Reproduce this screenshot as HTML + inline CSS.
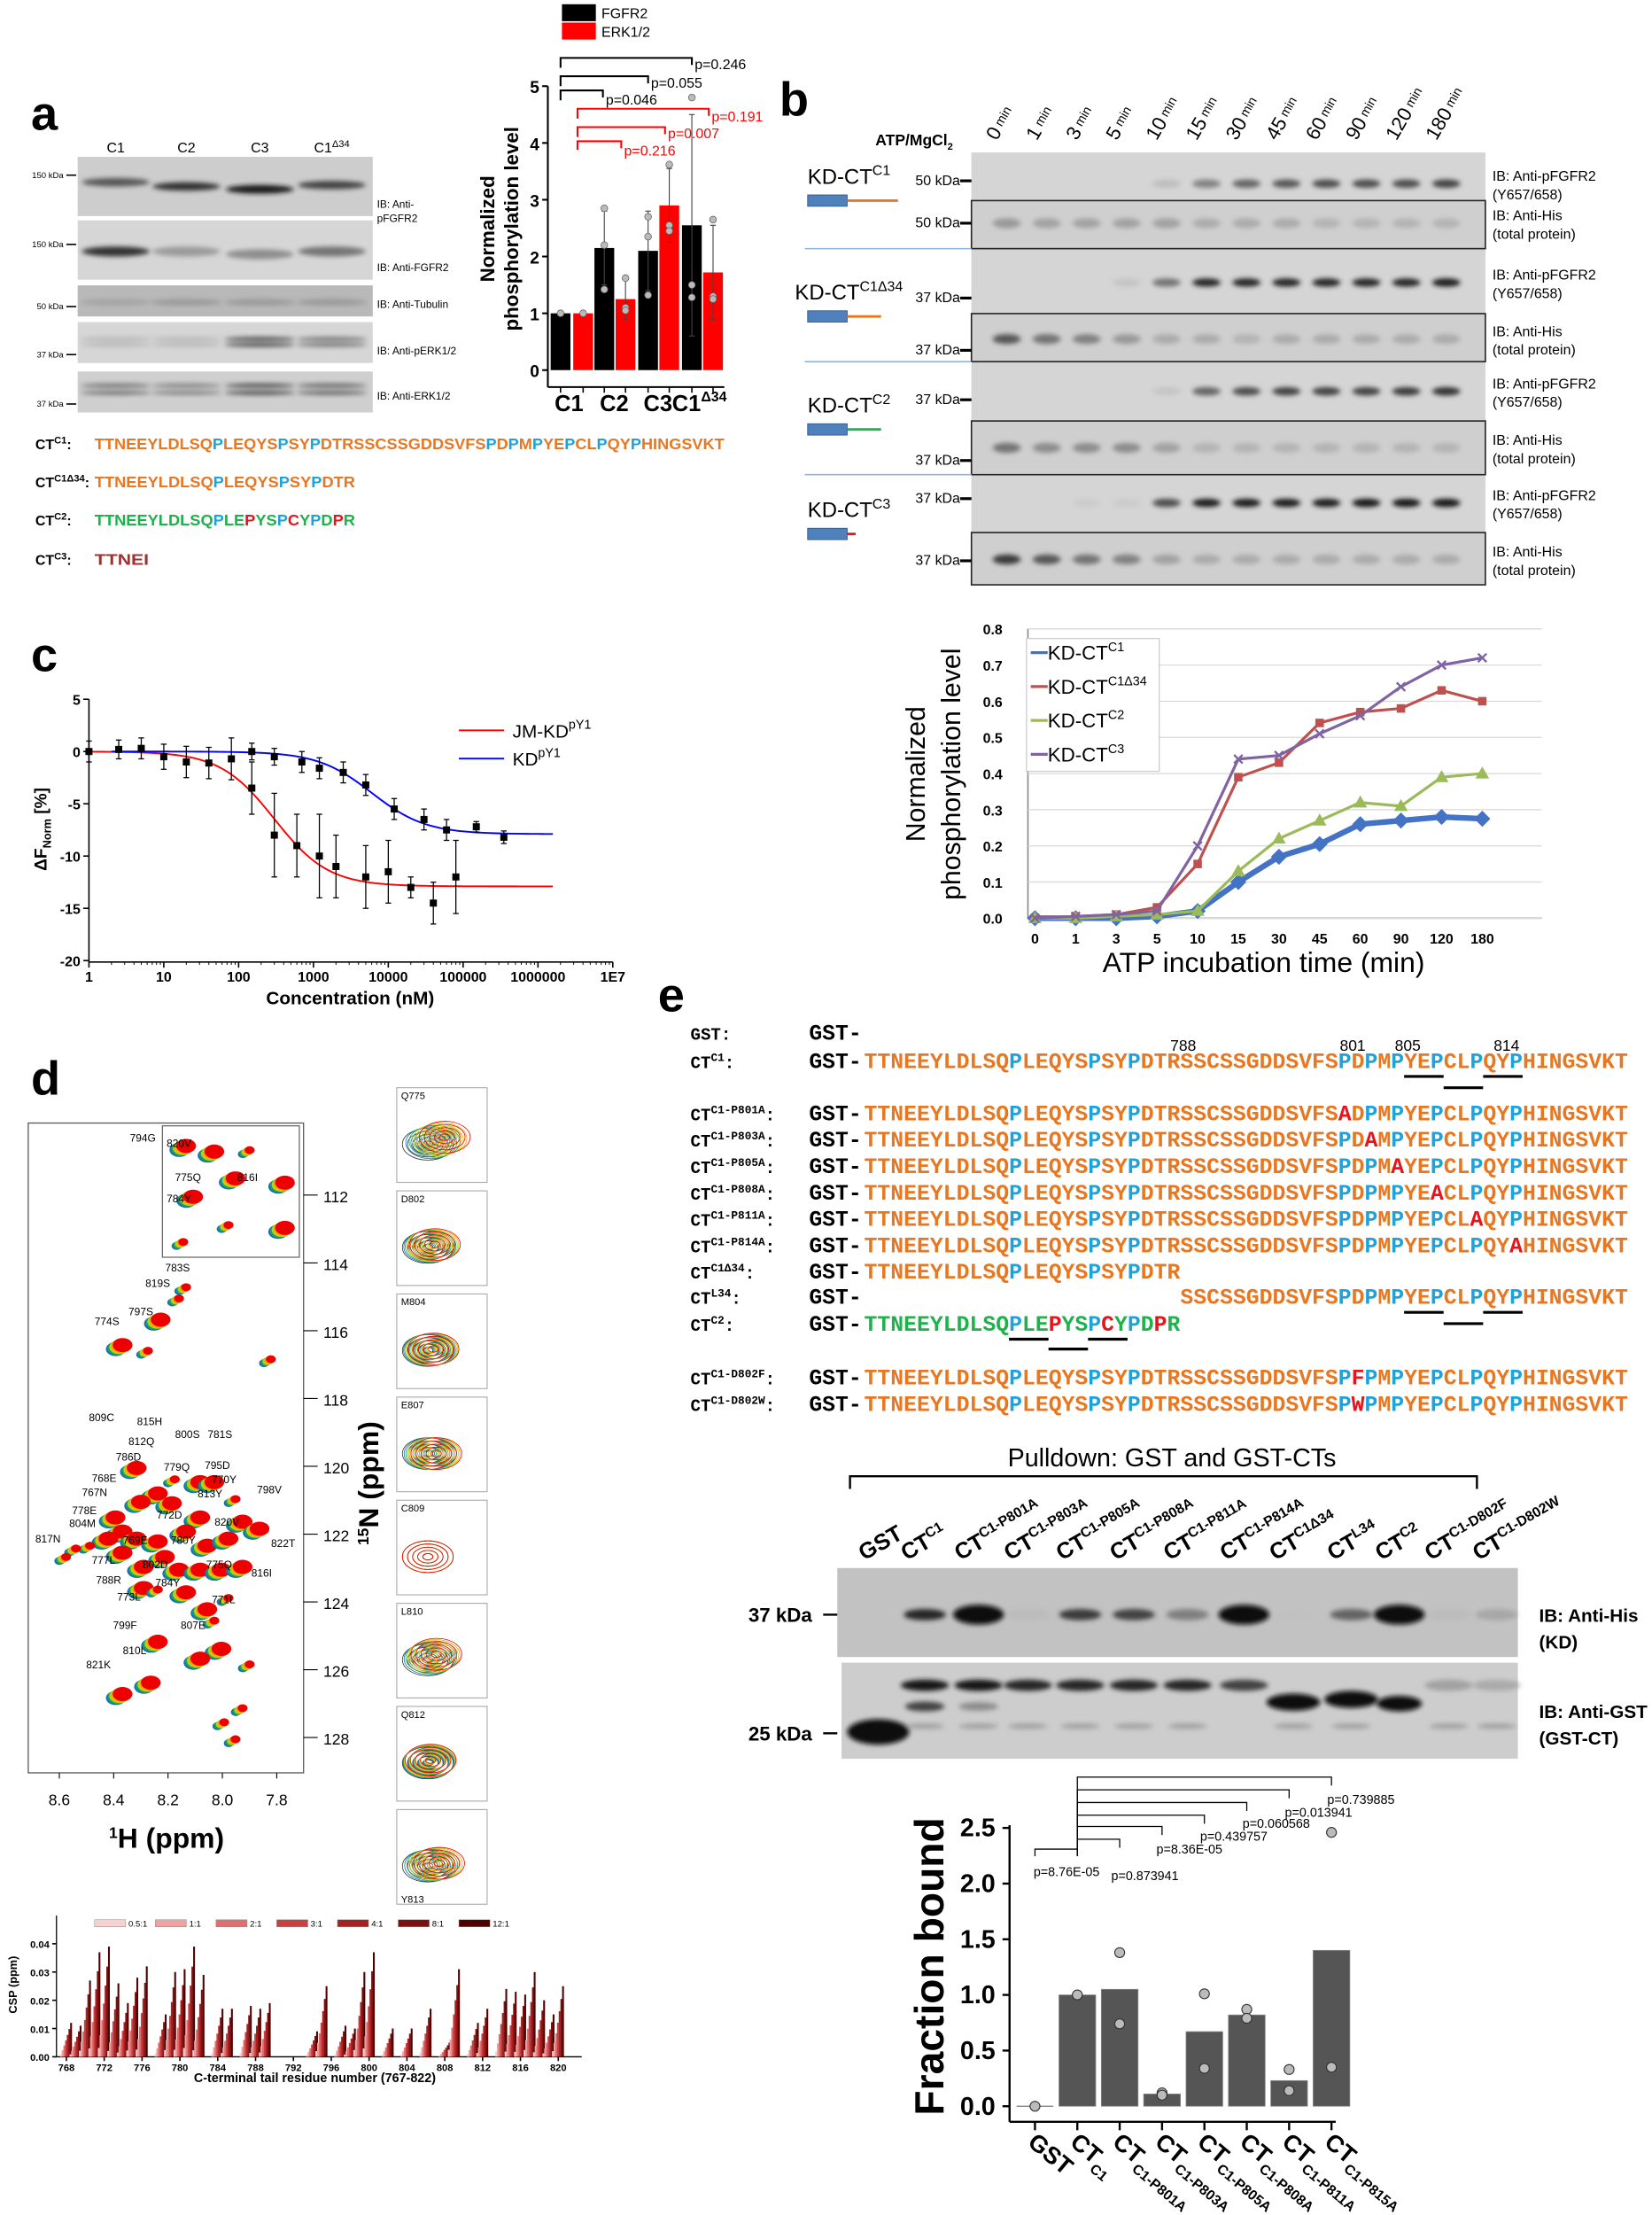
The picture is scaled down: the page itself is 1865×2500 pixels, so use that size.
<!DOCTYPE html>
<html><head><meta charset="utf-8"><style>
html,body{margin:0;padding:0;background:#fff}
svg{display:block}
text{font-family:"Liberation Sans",Arial,sans-serif}
.m{font-family:"Liberation Mono","Courier New",monospace;font-weight:bold}
</style></head><body>
<svg id="s" xmlns="http://www.w3.org/2000/svg" width="1865" height="2500" viewBox="0 0 1170 1568" preserveAspectRatio="none">
<defs>
<filter id="bl" x="-50%" y="-100%" width="200%" height="300%"><feGaussianBlur stdDeviation="1.6"/></filter>
</defs>
<rect width="1170" height="1568" fill="#fff"/>
<g id="g"></g>
</svg>
<script>
const g=document.getElementById('g');let H='';
function T(x,y,t,o){o=o||{};H+=`<text x="${x}" y="${y}" font-size="${o.s||10}" ${o.b?'font-weight="bold"':''} fill="${o.c||'#000'}" ${o.a?`text-anchor="${o.a}"`:''} ${o.r!=null?`transform="rotate(${o.r} ${x} ${y})"`:''} ${o.tl?`textLength="${o.tl}" lengthAdjust="spacingAndGlyphs"`:''}>${t}</text>`;}
function L(x1,y1,x2,y2,c,w){H+=`<line x1="${x1}" y1="${y1}" x2="${x2}" y2="${y2}" stroke="${c||'#000'}" stroke-width="${w||1}"/>`;}
function R(x,y,w,h,f,st){H+=`<rect x="${x}" y="${y}" width="${w}" height="${h}" fill="${f}" ${st||''}/>`;}
function P(d,c,w,f){H+=`<path d="${d}" stroke="${c||'#000'}" stroke-width="${w||1}" fill="${f||'none'}"/>`;}
function C(x,y,r,f,st){H+=`<circle cx="${x}" cy="${y}" r="${r}" fill="${f}" ${st||''}/>`;}
function band(x,y,w,h,i){if(i<=0)return;const v=Math.round(200-190*i);H+=`<ellipse cx="${x}" cy="${y}" rx="${w/2}" ry="${h/2}" fill="rgb(${v},${v},${v})" opacity="${Math.min(1,0.4+i)}" filter="url(#bl)"/>`;}
const OR='#e87722',BL='#1ca3dc',RD='#e8141c',GR='#1cb34a',BR='#9b3333';
// ===== panel a =====
T(22,92,'a',{s:34,b:1});
const lanesA=[82,132,184,235];
lanesA.forEach((x,i)=>T(x,108,i<3?'C'+(i+1):'C1<tspan dy="-4" font-size="7">Δ34</tspan>',{s:10,a:'middle'}));
const rowsA=[[111,153,'#cdcdcd'],[156,198,'#d6d6d6'],[202,224,'#b9b9b9'],[228,257,'#d6d6d6'],[263,292,'#cfcfcf']];
rowsA.forEach(r=>R(55,r[0],209,r[1]-r[0],r[2]));
[[129,.6],[132,.8],[134,.95],[131,.7]].forEach((b,i)=>band(lanesA[i],b[0],48,6,b[1]));
[.8,.35,.4,.5].forEach((v,i)=>band(lanesA[i],178+(i==2?2:0),48,7,v));
[.25,.3,.3,.3].forEach((v,i)=>band(lanesA[i],214,50,5,v));
[.2,.2,.65,.5].forEach((v,i)=>{band(lanesA[i],240,50,3,v);band(lanesA[i],244,50,3,v);});
[.5,.45,.65,.55].forEach((v,i)=>{band(lanesA[i],273,50,3,v);band(lanesA[i],278,50,3,v);});
[['150 kDa',124],['150 kDa',173],['50 kDa',217],['37 kDa',251],['37 kDa',286]].forEach(k=>{T(45,k[1]+2,k[0],{s:6,a:'end'});L(47,k[1],54,k[1],'#000',1);});
T(267,147,'IB: Anti-',{s:7.5});T(267,157,'pFGFR2',{s:7.5});T(267,192,'IB: Anti-FGFR2',{s:7.5});T(267,218,'IB: Anti-Tubulin',{s:7.5});T(267,251,'IB: Anti-pERK1/2',{s:7.5});T(267,283,'IB: Anti-ERK1/2',{s:7.5});
// bar chart a
R(398,3,24,12,'#000');R(398,16,24,12,'#f00');T(426,13,'FGFR2',{s:10});T(426,26,'ERK1/2',{s:10});
const by=v=>262-v*40.2;
L(388,61,388,274,'#000',1.3);L(388,274,513,274,'#000',1.3);
for(let v=0;v<=5;v++){L(384,by(v),388,by(v),'#000',1.3);T(382,by(v)+5,v,{s:12,b:1,a:'end'});}
const bars=[[390,1,1,'#000'],[406,1,1,'#f00'],[421,2.15,2.8,'#000'],[436,1.25,1.6,'#f00'],[452,2.1,2.8,'#000'],[467,2.9,3.55,'#f00'],[483,2.55,4.5,'#000'],[498,1.72,2.55,'#f00']];
bars.forEach(b=>{const cx=b[0]+7;R(b[0],by(b[1]),14,b[1]*40.2,b[3]);if(b[2]>b[1]){L(cx,by(b[1]-(b[2]-b[1])),cx,by(b[2]),'#444',0.7);L(cx-2,by(b[2]),cx+2,by(b[2]),'#444',0.7);L(cx-2,by(b[1]-(b[2]-b[1])),cx+2,by(b[1]-(b[2]-b[1])),'#444',0.7);}L(cx,274,cx,278,'#000',1);});
[[397,1],[413,1],[428,2.85],[428,2.2],[428,1.42],[443,1.62],[443,1.1],[443,1.05],[459,2.7],[459,2.35],[459,1.32],[474,3.62],[474,2.55],[474,2.45],[490,4.8],[490,1.5],[490,1.28],[505,2.65],[505,1.3],[505,1.25]].forEach(d=>C(d[0],by(d[1]),2.4,'#bbb','stroke="#666" stroke-width="0.5"'));
T(403,291,'C1',{s:16,b:1,a:'middle'});T(435,291,'C2',{s:16,b:1,a:'middle'});T(466,291,'C3',{s:16,b:1,a:'middle'});T(476,291,'C1<tspan dy="-7" font-size="10">Δ34</tspan>',{s:16,b:1});
T(350,162,'Normalized',{s:14,b:1,a:'middle',r:-90});T(367,162,'phosphorylation level',{s:14,b:1,a:'middle',r:-90});
P('M397,48 V41 H490 V46','#000',1.3);T(492,49,'p=0.246',{s:10});
P('M397,61 V54 H459 V59','#000',1.3);T(461,62,'p=0.055',{s:10});
P('M397,71 V64 H427 V69','#000',1.3);T(429,74,'p=0.046',{s:10});
P('M409,84 V77 H502 V82','#f00',1.3);T(504,86,'p=0.191',{s:10,c:'#f00'});
P('M409,97 V90 H471 V95','#f00',1.3);T(473,98,'p=0.007',{s:10,c:'#f00'});
P('M409,106 V100 H440 V105','#f00',1.3);T(442,110,'p=0.216',{s:10,c:'#f00'});
// sequences a
function seq(str,spec,x,y,s,tl){let out='';for(let i=0;i<str.length;i++)out+=`<tspan fill="${spec(str[i],i)}">${str[i]}</tspan>`;H+=`<text x="${x}" y="${y}" font-size="${s}" font-weight="bold" ${tl?`textLength="${tl}" lengthAdjust="spacingAndGlyphs"`:''}>${out}</text>`;}
const c1='TTNEEYLDLSQPLEQYSPSYPDTRSSCSSGDDSVFSPDPMPYEPCLPQYPHINGSVKT';
const c1s=(ch,i)=>ch==='P'?BL:OR;
const PW=446/58;
T(25,318,'CT<tspan dy="-4" font-size="7">C1</tspan><tspan dy="4">:</tspan>',{s:10,b:1});seq(c1,c1s,67,318,11,446);
T(25,345,'CT<tspan dy="-4" font-size="7">C1Δ34</tspan><tspan dy="4">:</tspan>',{s:10,b:1});seq('TTNEEYLDLSQPLEQYSPSYPDTR',c1s,67,345,11,24*PW);
const c2='TTNEEYLDLSQPLEPYSPCYPDPR';const c2s=(ch,i)=>[14,18,22].includes(i)?RD:(ch==='P'?BL:GR);
T(25,372,'CT<tspan dy="-4" font-size="7">C2</tspan><tspan dy="4">:</tspan>',{s:10,b:1});seq(c2,c2s,67,372,11,24*PW);
T(25,400,'CT<tspan dy="-4" font-size="7">C3</tspan><tspan dy="4">:</tspan>',{s:10,b:1});T(67,400,'TTNEI',{s:11,b:1,c:BR,tl:5*PW});
// ===== panel b =====
T(552,82,'b',{s:34,b:1});
T(620,103,'ATP/MgCl<tspan dy="3" font-size="7">2</tspan>',{s:11,b:1});
const tl=['0','1','3','5','10','15','30','45','60','90','120','180'];
const lx=i=>710+i*28.3;
tl.forEach((t,i)=>T(lx(i)-4,100,t+'<tspan font-size="9" dy="-2"> min</tspan>',{s:14,r:-60}));
R(688,108,364,306,'#d3d3d3');
const cons=[
{t:108,m:142,b:176,py:130,hy:158,p:[0,0,0,0,.15,.45,.55,.6,.65,.65,.65,.7],h:[.35,.3,.3,.3,.3,.25,.25,.25,.2,.2,.2,.2],lab:'C1',ly:130,lx:572,col:OR,len:36,k1:'50 kDa',k1y:127,k2:'50 kDa',k2y:157},
{t:178,m:222,b:256,py:200,hy:240,p:[0,0,0,.1,.5,.85,.85,.85,.85,.85,.85,.9],h:[.6,.5,.45,.35,.25,.25,.2,.25,.25,.25,.25,.25],lab:'C1Δ34',ly:212,lx:563,col:OR,len:24,k1:'37 kDa',k1y:210,k2:'37 kDa',k2y:247},
{t:258,m:298,b:336,py:277,hy:317,p:[0,0,0,0,.1,.55,.65,.7,.7,.7,.75,.8],h:[.5,.4,.4,.4,.3,.2,.2,.2,.2,.2,.2,.2],lab:'C2',ly:292,lx:572,col:GR,len:24,k1:'37 kDa',k1y:282,k2:'37 kDa',k2y:325},
{t:337,m:377,b:414,py:356,hy:396,p:[0,0,.05,.05,.65,.9,.9,.9,.9,.95,.95,.95],h:[.75,.6,.5,.45,.3,.25,.25,.25,.25,.25,.25,.25],lab:'C3',ly:366,lx:572,col:RD,len:6,k1:'37 kDa',k1y:352,k2:'37 kDa',k2y:396}];
cons.forEach((c,ci)=>{R(688,c.t,364,c.m-c.t,'#d5d5d5');R(688,c.m,364,c.b-c.m,'#cfcfcf','stroke="#222" stroke-width="1"');
 c.p.forEach((v,i)=>band(lx(i)+3,c.py,20,6,v));c.h.forEach((v,i)=>band(lx(i)+3,c.hy,20,7,v));
 T(680,c.k1y+4,c.k1,{s:10,a:'end'});L(680,c.k1y+1,688,c.k1y+1,'#000',2);
 T(680,c.k2y+4,c.k2,{s:10,a:'end'});L(680,c.k2y+1,688,c.k2y+1,'#000',2);
 T(1057,c.py-2,'IB: Anti-pFGFR2',{s:10});T(1057,c.py+11,'(Y657/658)',{s:10});T(1057,c.hy-2,'IB: Anti-His',{s:10});T(1057,c.hy+11,'(total protein)',{s:10});
 T(c.lx,c.ly,'KD-CT<tspan dy="-6" font-size="10">'+c.lab+'</tspan>',{s:15});R(572,c.ly+8,28,8,'#4f81bd','stroke="#385d8a" stroke-width="0.6"');L(600,c.ly+12,600+c.len,c.ly+12,c.col,1.8);
 if(ci<3)L(570,c.b,688,c.b,'#8db3e2',1);});
// ===== line chart b =====
const X0=733,DX=28.8,ly=v=>650-v*256;
L(728,445,728,650,'#888');L(728,650,1092,650,'#888');
for(let v=0;v<=8;v++){const y=ly(v/10);L(728,y,1092,y,'#d9d9d9',0.8);T(710,y+4,(v/10).toFixed(1),{s:10,b:1,a:'end'});}
tl.forEach((t,i)=>T(X0+i*DX,668,t,{s:10,b:1,a:'middle'}));
const ser=[[[0,0,0,0.005,0.02,0.1,0.17,0.205,0.26,0.27,0.28,0.275],'#4472c4','d'],
[[0,0.005,0.01,0.03,0.15,0.39,0.43,0.54,0.57,0.58,0.63,0.6],'#c0504d','s'],
[[0,0,0.005,0.01,0.02,0.13,0.22,0.27,0.32,0.31,0.39,0.4],'#9bbb59','t'],
[[0,0.005,0.01,0.02,0.2,0.44,0.45,0.51,0.56,0.64,0.7,0.72],'#8064a2','x']];
ser.forEach(s=>{P('M'+s[0].map((v,i)=>(X0+i*DX)+','+ly(v)).join(' L'),s[1],s[2]==='d'?4:2);
 s[0].forEach((v,i)=>{const x=X0+i*DX,y=ly(v);
 if(s[2]==='d')P(`M${x-5},${y} L${x},${y-5} L${x+5},${y} L${x},${y+5}Z`,s[1],1,s[1]);
 else if(s[2]==='s')R(x-3,y-3,6,6,s[1]);else if(s[2]==='t')P(`M${x-4},${y+3} L${x},${y-4} L${x+4},${y+3}Z`,s[1],1,s[1]);
 else {L(x-3,y-3,x+3,y+3,s[1],1.5);L(x-3,y+3,x+3,y-3,s[1],1.5);}});});
R(727,452,94,94,'#fff','stroke="#ccc" stroke-width="0.8"');
ser.forEach((s,i)=>{const y=462+i*24;L(730,y,742,y,s[1],2);T(742,y+5,'KD-CT<tspan dy="-6" font-size="9">'+['C1','C1Δ34','C2','C3'][i]+'</tspan>',{s:14});});
T(655,548,'Normalized',{s:19,a:'middle',r:-90});T(680,548,'phosphorylation level',{s:19,a:'middle',r:-90});
T(895,688,'ATP incubation time (min)',{s:20,a:'middle'});
// ===== panel c =====
T(22,475,'c',{s:34,b:1});
const cx=v=>63+Math.log10(v)*53,cy=v=>532-v*7.4;
P('M63,495 V681 H434','#000',1);
[5,0,-5,-10,-15,-20].forEach(v=>{L(59,cy(v),63,cy(v));T(57,cy(v)+4,v,{s:10,b:1,a:'end'});});
['1','10','100','1000','10000','100000','1000000','1E7'].forEach((t,i)=>{const x=63+i*53;L(x,681,x,685);T(x,695,t,{s:10,b:1,a:'middle'});for(let k=2;k<10&&i<7;k++)L(x+Math.log10(k)*53,681,x+Math.log10(k)*53,683,'#000',0.6);});
T(248,711,'Concentration (nM)',{s:13,b:1,a:'middle'});
T(33,587,'ΔF<tspan font-size="8" dy="3">Norm</tspan><tspan dy="-3"> [%]</tspan>',{s:12,b:1,a:'middle',r:-90});
let pr='',pb='';for(let l2=0;l2<=6.2;l2+=0.05){const v=Math.pow(10,l2);const x=cx(v);pr+=(pr?' L':'M')+x+','+cy(-12.9/(1+Math.pow(300/v,1.2)));if(l2>=0.3)pb+=(pb?' L':'M')+x+','+cy(-7.9/(1+Math.pow(6000/v,1.2)));}
P(pr,'#f00',1.2);P(pb,'#00f',1.2);
[[1,0,1],[2.5,0.2,0.9],[5,0.3,1],[10,-0.5,1.2],[20,-1,1.5],[40,-1.1,1.5],[80,-0.7,2],[150,-3.5,2.5],[300,-8,4],[600,-9,3],[1200,-10,4],[2000,-11,3],[5000,-12,3],[10000,-11.5,3],[20000,-13,1],[40000,-14.5,2],[80000,-12,3.5],[150,0,0.8],[300,-0.5,0.8],[700,-1,1],[1200,-1.6,1],[2500,-2,1],[5000,-3.2,1],[12000,-5.5,1],[30000,-6.5,1],[60000,-7.5,1],[150000,-7.2,0.5],[350000,-8.2,0.6]].forEach(d=>{const x=cx(d[0]),y=cy(d[1]);if(d[2]){L(x,cy(d[1]-d[2]),x,cy(d[1]+d[2]),'#000',0.8);L(x-2,cy(d[1]-d[2]),x+2,cy(d[1]-d[2]),'#000',.8);L(x-2,cy(d[1]+d[2]),x+2,cy(d[1]+d[2]),'#000',.8);}R(x-2.5,y-2.5,5,5,'#000');});
L(325,517,357,517,'#f00',1.2);T(363,522,'JM-KD<tspan dy="-6" font-size="9">pY1</tspan>',{s:13});
L(325,537,357,537,'#00f',1.2);T(363,542,'KD<tspan dy="-6" font-size="9">pY1</tspan>',{s:13});
// ===== panel d =====
T(22,775,'d',{s:34,b:1});
R(20,795,195,460,'none','stroke="#555" stroke-width="0.8"');
R(115,797,97,93,'none','stroke="#555" stroke-width="0.7"');
const ny=v=>846+(v-112)*24;
[112,114,116,118,120,122,124,126,128].forEach(v=>{L(215,ny(v),225,ny(v),'#000',0.7);T(229,ny(v)+5,v,{s:11});});
const hx=v=>42+(8.6-v)*192.5;
[8.6,8.4,8.2,8.0,7.8].forEach(v=>{L(hx(v),1255,hx(v),1259,'#000',0.7);T(hx(v),1278,v.toFixed(1),{s:11,a:'middle'});});
T(118,1308,'<tspan dy="-7" font-size="11">1</tspan><tspan dy="7">H (ppm)</tspan>',{s:20,b:1,a:'middle'});
T(268,1050,'<tspan font-size="11" dy="-7">15</tspan><tspan dy="7">N (ppm)</tspan>',{s:20,b:1,a:'middle',r:-90});
const pk=[[130,812,1],[150,816,1],[175,815,0],[135,848,1],[165,835,1],[200,838,1],[128,880,0],[160,868,0],[200,870,1],
[130,912,0],[125,920,0],[112,935,1],[85,953,1],[103,957,0],[190,963,0],[95,1040,1],[122,1048,0],[110,1058,1],[140,1050,1],[150,1050,1],[98,1064,1],[80,1075,1],[120,1065,1],[140,1075,1],[165,1062,0],[170,1078,1],[182,1083,1],[85,1085,1],[75,1090,1],[95,1090,1],[110,1092,1],[130,1085,1],[145,1095,1],[160,1090,1],[85,1100,1],[62,1095,0],[52,1097,0],[45,1103,0],[115,1103,1],[100,1110,1],[125,1112,1],[140,1112,1],[155,1112,1],[170,1110,1],[100,1125,1],[110,1126,0],[130,1128,1],[160,1132,0],[145,1140,1],[150,1148,0],[110,1163,1],[155,1168,1],[140,1175,1],[105,1192,1],[85,1200,1],[170,1210,0],[157,1220,0],[165,1232,0],[175,1179,0]];
const pcol=['#1a6fb5','#1aa35a','#b8d21a','#f5a800','#ee0000'];
pk.forEach(p=>{const rx=p[2]?7:3.5,ry=p[2]?5:2.8;pcol.forEach((c,i)=>H+=`<ellipse cx="${p[0]-3+i*1.2}" cy="${p[1]+2-i*0.7}" rx="${rx}" ry="${ry}" fill="${c}"/>`);});
const lab=[['794G',92,808],['820V',118,812],['775Q',124,836],['816I',168,836],['784Y',118,851],['783S',117,900],['819S',103,911],['797S',91,931],['774S',67,938],['809C',63,1006],['815H',97,1009],['812Q',91,1023],['800S',124,1018],['781S',147,1018],['786D',82,1034],['768E',65,1049],['779Q',116,1041],['795D',145,1040],['770Y',150,1050],['767N',58,1059],['813Y',140,1060],['798V',182,1057],['778E',51,1072],['772D',111,1075],['804M',49,1081],['820V',152,1080],['769E',87,1093],['780Y',121,1093],['817N',25,1092],['822T',192,1095],['777L',65,1107],['802D',101,1110],['775Q',146,1110],['816I',178,1116],['788R',68,1121],['784Y',110,1123],['773L',83,1133],['771L',150,1135],['799F',80,1153],['807E',128,1153],['810L',87,1171],['821K',61,1181]];
lab.forEach(l=>T(l[1],l[2],l[0],{s:7.5}));
['Q775','D802','M804','E807','C809','L810','Q812','Y813'].forEach((n,i)=>{const y=770+i*73;R(281,y,64,67,'#fff','stroke="#aaa" stroke-width="0.7"');
 T(284,i==7?y+66:y+8,n,{s:7});
 const off=[[12,-5],[5,-2],[4,-1],[6,0],[0,0],[6,-4],[2,-2],[8,-2]][i];
 const cols=['#333','#1a6fb5','#1aa35a','#b8d21a','#f5a800','#ee0000'];
 cols.forEach((c,k)=>{for(let r=3;r<=16;r+=3)H+=`<ellipse cx="${303+off[0]*k/5}" cy="${y+40+off[1]*k/5}" rx="${r*1.2}" ry="${r*0.75}" fill="none" stroke="${c}" stroke-width="0.5"/>`;});});
// CSP chart
const sx=v=>47+(v-768)*6.7;
P('M40,1356 V1456 H412','#000',0.8);
[[0,1456],[0.01,1436],[0.02,1416],[0.03,1396],[0.04,1376]].forEach(t=>{L(37,t[1],40,t[1]);T(35,t[1]+3,t[0].toFixed(2),{s:7,b:1,a:'end'});});
T(12,1405,'CSP (ppm)',{s:8,b:1,a:'middle',r:-90});
for(let r=768;r<=820;r+=4){L(sx(r),1456,sx(r),1459);T(sx(r),1466,r,{s:7,b:1,a:'middle'});}
T(223,1474,'C-terminal tail residue number (767-822)',{s:9,b:1,a:'middle'});
const csp={768:.012,769:.011,770:.027,771:.037,772:.039,773:.026,774:.019,775:.028,776:.032,778:.015,779:.03,780:.031,781:.039,782:.029,784:.017,785:.017,787:.018,788:.017,789:.019,794:.009,795:.025,797:.011,798:.01,799:.03,800:.037,802:.01,804:.01,806:.017,808:.005,809:.031,811:.012,812:.017,814:.024,815:.023,816:.022,817:.03,818:.02,819:.015,820:.025};
const shades=['#f8d0d0','#f0a0a0','#e07070','#c84040','#a82020','#801010','#500000'];
for(const k in csp){const v=csp[k];shades.forEach((c,i)=>{const h=v*2000*Math.pow((i+1)/7,1.3);R(sx(+k)-4.5+i*1.2,1456-h,1.3,h,c);});}
shades.forEach((c,i)=>{R(67+i*43,1359,22,5,c,'stroke="#888" stroke-width="0.3"');T(91+i*43,1364,['0.5:1','1:1','2:1','3:1','4:1','8:1','12:1'][i],{s:6});});
// ===== panel e =====
T(466,716,'e',{s:34,b:1});
function lab2(y,sup2){H+=`<text class="m" x="489" y="${y}" font-size="12">CT<tspan dy="-5" font-size="8">${sup2}</tspan><tspan dy="5">:</tspan></text>`;}
const SX=612,CW=541/58;
function mseq(y,str,sp,start){let o='';for(let i=0;i<str.length;i++)o+=`<tspan fill="${sp(str[i],i+start)}">${str[i]}</tspan>`;H+=`<text class="m" x="${SX+start*CW}" y="${y}" font-size="15.5" textLength="${str.length*CW}" lengthAdjust="spacingAndGlyphs">${o}</text>`;H+=`<text class="m" x="573" y="${y}" font-size="15.5">GST-</text>`;}
H+=`<text class="m" x="489" y="736" font-size="12">GST:</text><text class="m" x="573" y="736" font-size="15.5">GST-</text>`;
T(838,744,'788',{s:11,a:'middle'});T(958,744,'801',{s:11,a:'middle'});T(997,744,'805',{s:11,a:'middle'});T(1067,744,'814',{s:11,a:'middle'});
lab2(756,'C1');mseq(756,c1,c1s,0);
function ul(y,a,b){L(SX+a*CW,y,SX+b*CW,y,'#000',2);}
ul(762,41,44);ul(770,44,47);ul(762,47,50);
const muts=[['C1-P801A',36,'A'],['C1-P803A',38,'A'],['C1-P805A',40,'A'],['C1-P808A',43,'A'],['C1-P811A',46,'A'],['C1-P814A',49,'A']];
muts.forEach((m,k)=>{const y=793+k*18.7;lab2(y,m[0]);const s=c1.substring(0,m[1])+m[2]+c1.substring(m[1]+1);mseq(y,s,(ch,i)=>i===m[1]?RD:c1s(ch),0);});
lab2(905,'C1Δ34');mseq(905,'TTNEEYLDLSQPLEQYSPSYPDTR',c1s,0);
lab2(923,'L34');mseq(923,c1.substring(24),c1s,24);ul(929,41,44);ul(937,44,47);ul(929,47,50);
lab2(942,'C2');mseq(942,c2,c2s,0);ul(948,11,14);ul(955,14,17);ul(948,17,20);
[['C1-D802F',37,'F'],['C1-D802W',37,'W']].forEach((m,k)=>{const y=980+k*18.7;lab2(y,m[0]);const s=c1.substring(0,m[1])+m[2]+c1.substring(m[1]+1);mseq(y,s,(ch,i)=>i===m[1]?RD:c1s(ch),0);});
// pulldown
T(830,1038,'Pulldown: GST and GST-CTs',{s:18,a:'middle'});
P('M602,1054 V1045 H1046 V1054','#000',1.5);
const plx=[622,652,690,725,762,800,838,878,913,954,988,1023,1057];
const sub=['C1','C1-P801A','C1-P803A','C1-P805A','C1-P808A','C1-P811A','C1-P814A','C1Δ34','L34','C2','C1-D802F','C1-D802W'];
T(612,1105,'GST',{s:16,b:1,r:-30});
sub.forEach((s,i)=>T(plx[i+1]-10,1105,'CT<tspan dy="-6" font-size="10">'+s+'</tspan>',{s:16,b:1,r:-30}));
R(593,1110,482,63,'#c2c2c2');R(596,1177,479,68,'#cdcdcd');
[0,.85,1,.1,.75,.7,.45,1,.05,.55,1,.1,.25].forEach((v,i)=>band(plx[i]+3,1143,v>.9?36:30,v>.9?14:8,v));
[[1,.95],[2,.95],[3,.85],[4,.85],[5,.85],[6,.85],[7,.7],[11,.3],[12,.25]].forEach(b=>band(plx[b[0]]+3,1193,34,8,b[1]));
band(plx[1]+3,1208,28,7,.7);band(plx[2]+3,1208,28,6,.4);band(plx[8]+3,1205,38,12,1);band(plx[9]+3,1203,38,12,1);band(plx[10]+3,1206,32,11,1);
band(622,1226,44,18,1);[1,2,3,4,5,6,8,9,11,12].forEach(i=>band(plx[i]+3,1222,28,4,.3));
T(530,1148,'37 kDa',{s:14,b:1});L(583,1143,593,1143,'#000',1.5);T(530,1232,'25 kDa',{s:14,b:1});L(583,1227,593,1227,'#000',1.5);
T(1090,1148,'IB: Anti-His',{s:13,b:1});T(1090,1167,'(KD)',{s:13,b:1});T(1090,1216,'IB: Anti-GST',{s:13,b:1});T(1090,1235,'(GST-CT)',{s:13,b:1});
// bar chart e
const fy=v=>1491-v*78.8;
L(715,1292,715,1502,'#000',1.5);L(715,1502,946,1502,'#000',1.5);
[0,.5,1,1.5,2,2.5].forEach(v=>{L(710,fy(v),715,fy(v),'#000',1.5);T(705,fy(v)+6,v.toFixed(1),{s:18,b:1,a:'end'});});
T(668,1392,'Fraction bound',{s:29,b:1,a:'middle',r:-90});
const ft=[733,763,793,823,853,883,913,943];
const fb=[0,1,1.05,0.11,0.67,0.82,0.23,1.4];
fb.forEach((v,i)=>{L(ft[i],1502,ft[i],1508,'#000',1.5);if(i)R(ft[i]-13,fy(v),26,v*78.8,'#555','stroke="#888" stroke-width="0.5"');});
L(720,1491,746,1491,'#777',0.8);
[[0,0],[1,1],[2,1.38],[2,.74],[3,.12],[3,.1],[4,1.01],[4,.34],[5,.87],[5,.79],[6,.33],[6,.14],[7,2.46],[7,.35]].forEach(d=>C(ft[d[0]],fy(d[1]),3.5,'#bbb','stroke="#333" stroke-width="0.7"'));
const fl=['GST','CT<tspan dy="5" font-size="10">C1</tspan>','CT<tspan dy="5" font-size="10">C1-P801A</tspan>','CT<tspan dy="5" font-size="10">C1-P803A</tspan>','CT<tspan dy="5" font-size="10">C1-P805A</tspan>','CT<tspan dy="5" font-size="10">C1-P808A</tspan>','CT<tspan dy="5" font-size="10">C1-P811A</tspan>','CT<tspan dy="5" font-size="10">C1-P815A</tspan>'];
fl.forEach((t,i)=>T(ft[i]-6,1518,t,{s:17,b:1,r:40}));
P('M733,1314 V1309 H763 V1314','#000',0.8);T(732,1328,'p=8.76E-05',{s:9});
[[793,1302,787,1331,'0.873941'],[823,1293,819,1312,'8.36E-05'],[853,1285,850,1303,'0.439757'],[883,1276,880,1294,'0.060568'],[913,1267,910,1286,'0.013941'],[943,1258,940,1277,'0.739885']].forEach(b=>{P(`M763,1314 V${b[1]} H${b[0]} V${b[1]+6}`,'#000',0.8);T(b[2],b[3],'p='+b[4],{s:9});});
g.innerHTML=H;
</script>
</body></html>
